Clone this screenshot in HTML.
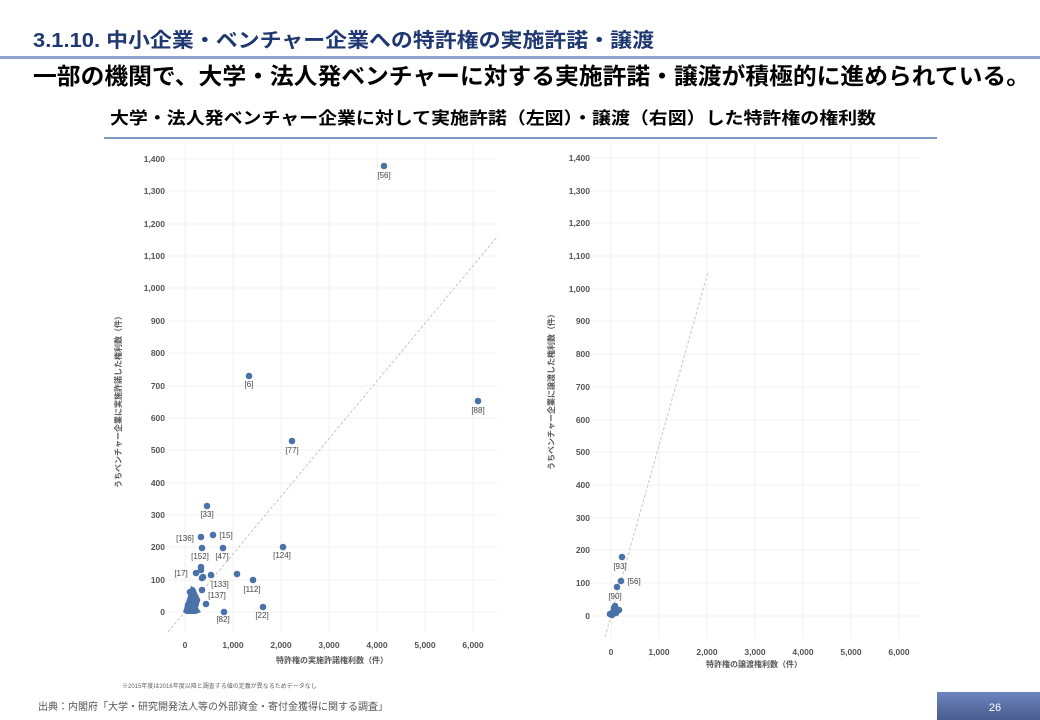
<!DOCTYPE html>
<html><head><meta charset="utf-8"><style>
body{margin:0;width:1040px;height:720px;overflow:hidden;background:#fff;font-family:"Liberation Sans","Noto Sans CJK JP",sans-serif;}
</style></head><body>
<svg width="1040" height="720" xmlns="http://www.w3.org/2000/svg" style="position:absolute;left:0;top:0" font-family="Liberation Sans, Noto Sans CJK JP, sans-serif">
<text x="33" y="47" font-size="20" font-weight="bold" fill="#1f3872" textLength="621" lengthAdjust="spacingAndGlyphs">3.1.10. 中小企業・ベンチャー企業への特許権の実施許諾・譲渡</text>
<rect x="0" y="56" width="1040" height="3" fill="#8ea0cc"/>
<text x="33" y="84" font-size="23" font-weight="bold" fill="#000" textLength="997" lengthAdjust="spacingAndGlyphs">一部の機関で、大学・法人発ベンチャーに対する実施許諾・譲渡が積極的に進められている。</text>
<text x="110" y="124" font-size="17" font-weight="bold" fill="#000" textLength="766" lengthAdjust="spacingAndGlyphs">大学・法人発ベンチャー企業に対して実施許諾（左図）・譲渡（右図）した特許権の権利数</text>
<rect x="104" y="137" width="833" height="2" fill="#8297c4"/>

<g stroke="#f0f0f0" stroke-width="1">
<line x1="168" y1="159" x2="497" y2="159"/><line x1="168" y1="191" x2="497" y2="191"/><line x1="168" y1="224" x2="497" y2="224"/><line x1="168" y1="256" x2="497" y2="256"/><line x1="168" y1="288" x2="497" y2="288"/><line x1="168" y1="321" x2="497" y2="321"/><line x1="168" y1="353" x2="497" y2="353"/><line x1="168" y1="386" x2="497" y2="386"/><line x1="168" y1="418" x2="497" y2="418"/><line x1="168" y1="450" x2="497" y2="450"/><line x1="168" y1="483" x2="497" y2="483"/><line x1="168" y1="515" x2="497" y2="515"/><line x1="168" y1="547" x2="497" y2="547"/><line x1="168" y1="580" x2="497" y2="580"/><line x1="168" y1="612" x2="497" y2="612"/>
<line x1="185" y1="145" x2="185" y2="632"/><line x1="233" y1="145" x2="233" y2="632"/><line x1="281" y1="145" x2="281" y2="632"/><line x1="329" y1="145" x2="329" y2="632"/><line x1="377" y1="145" x2="377" y2="632"/><line x1="425" y1="145" x2="425" y2="632"/><line x1="473" y1="145" x2="473" y2="632"/>
<line x1="592" y1="158" x2="920" y2="158"/><line x1="592" y1="191" x2="920" y2="191"/><line x1="592" y1="223" x2="920" y2="223"/><line x1="592" y1="256" x2="920" y2="256"/><line x1="592" y1="289" x2="920" y2="289"/><line x1="592" y1="321" x2="920" y2="321"/><line x1="592" y1="354" x2="920" y2="354"/><line x1="592" y1="387" x2="920" y2="387"/><line x1="592" y1="420" x2="920" y2="420"/><line x1="592" y1="452" x2="920" y2="452"/><line x1="592" y1="485" x2="920" y2="485"/><line x1="592" y1="518" x2="920" y2="518"/><line x1="592" y1="550" x2="920" y2="550"/><line x1="592" y1="583" x2="920" y2="583"/><line x1="592" y1="616" x2="920" y2="616"/>
<line x1="611" y1="145" x2="611" y2="638"/><line x1="659" y1="145" x2="659" y2="638"/><line x1="707" y1="145" x2="707" y2="638"/><line x1="755" y1="145" x2="755" y2="638"/><line x1="803" y1="145" x2="803" y2="638"/><line x1="851" y1="145" x2="851" y2="638"/><line x1="899" y1="145" x2="899" y2="638"/>
</g>
<line x1="168" y1="632" x2="497" y2="237" stroke="#c8c8c8" stroke-dasharray="3,2"/>
<line x1="605" y1="637" x2="708" y2="272" stroke="#c8c8c8" stroke-dasharray="3,2"/>

<g font-size="8.5" fill="#555" text-anchor="end" font-weight="bold">
<text x="165" y="162">1,400</text><text x="165" y="194">1,300</text><text x="165" y="227">1,200</text><text x="165" y="259">1,100</text><text x="165" y="291">1,000</text><text x="165" y="324">900</text><text x="165" y="356">800</text><text x="165" y="389">700</text><text x="165" y="421">600</text><text x="165" y="453">500</text><text x="165" y="486">400</text><text x="165" y="518">300</text><text x="165" y="550">200</text><text x="165" y="583">100</text><text x="165" y="615">0</text>
<text x="590" y="161">1,400</text><text x="590" y="194">1,300</text><text x="590" y="226">1,200</text><text x="590" y="259">1,100</text><text x="590" y="292">1,000</text><text x="590" y="324">900</text><text x="590" y="357">800</text><text x="590" y="390">700</text><text x="590" y="423">600</text><text x="590" y="455">500</text><text x="590" y="488">400</text><text x="590" y="521">300</text><text x="590" y="553">200</text><text x="590" y="586">100</text><text x="590" y="619">0</text>
</g>
<g font-size="8.5" fill="#555" text-anchor="middle" font-weight="bold">
<text x="185" y="648">0</text><text x="233" y="648">1,000</text><text x="281" y="648">2,000</text><text x="329" y="648">3,000</text><text x="377" y="648">4,000</text><text x="425" y="648">5,000</text><text x="473" y="648">6,000</text>
<text x="611" y="655">0</text><text x="659" y="655">1,000</text><text x="707" y="655">2,000</text><text x="755" y="655">3,000</text><text x="803" y="655">4,000</text><text x="851" y="655">5,000</text><text x="899" y="655">6,000</text>
</g>
<g font-size="8" fill="#555" text-anchor="middle" font-weight="bold">
<text x="332" y="663">特許権の実施許諾権利数（件）</text>
<text x="754" y="667">特許権の譲渡権利数（件）</text>
<text transform="translate(121,400) rotate(-90)">うちベンチャー企業に実施許諾した権利数（件）</text>
<text transform="translate(554,390) rotate(-90)">うちベンチャー企業に譲渡した権利数（件）</text>
</g>
<text x="122" y="688" font-size="6" fill="#666">※2015年度は2016年度以降と調査する値の定義が異なるためデータなし</text>

<g fill="#4a72a8">
<circle cx="384" cy="166" r="3.3"/><circle cx="249" cy="376" r="3.3"/><circle cx="478" cy="401" r="3.3"/><circle cx="292" cy="441" r="3.3"/><circle cx="283" cy="547" r="3.3"/><circle cx="207" cy="506" r="3.3"/><circle cx="213" cy="535" r="3.3"/><circle cx="201" cy="537" r="3.3"/><circle cx="202" cy="548" r="3.3"/><circle cx="223" cy="548" r="3.3"/><circle cx="201" cy="567" r="3.3"/><circle cx="201" cy="570" r="3.3"/><circle cx="196" cy="573" r="3.3"/><circle cx="203" cy="577" r="3.3"/><circle cx="202" cy="578" r="3.3"/><circle cx="211" cy="575" r="3.3"/><circle cx="237" cy="574" r="3.3"/><circle cx="253" cy="580" r="3.3"/><circle cx="202" cy="590" r="3.3"/><circle cx="206" cy="604" r="3.3"/><circle cx="224" cy="612" r="3.3"/><circle cx="263" cy="607" r="3.3"/>
<polygon points="183,612 191,586 195,588 200,600 198,608 201,612 196,614 186,614"/>
<circle cx="193" cy="600" r="3.3"/><circle cx="197" cy="600" r="3.3"/><circle cx="188" cy="605" r="3.3"/><circle cx="194" cy="595" r="3.3"/><circle cx="190" cy="592" r="3.3"/>
<circle cx="622" cy="557" r="3.3"/><circle cx="621" cy="581" r="3.3"/><circle cx="617" cy="587" r="3.3"/>
<circle cx="610" cy="614" r="3.3"/><circle cx="613" cy="612" r="3.3"/><circle cx="614" cy="608" r="3.3"/><circle cx="615" cy="606" r="3.3"/><circle cx="617" cy="611" r="3.3"/><circle cx="619" cy="610" r="3.3"/><circle cx="612" cy="615" r="3.3"/><circle cx="616" cy="613" r="3.3"/>
</g>
<g font-size="8" fill="#444" text-anchor="middle">
<text x="384" y="178">[56]</text><text x="249" y="387">[6]</text><text x="478" y="413">[88]</text><text x="292" y="453">[77]</text><text x="282" y="558">[124]</text><text x="207" y="517">[33]</text><text x="226" y="538">[15]</text><text x="185" y="541">[136]</text><text x="200" y="559">[152]</text><text x="222" y="559">[47]</text><text x="181" y="576">[17]</text><text x="220" y="587">[133]</text><text x="252" y="592">[112]</text><text x="217" y="598">[137]</text><text x="223" y="622">[82]</text><text x="262" y="618">[22]</text>
<text x="620" y="569">[93]</text><text x="634" y="584">[56]</text><text x="615" y="599">[90]</text>
</g>

<text x="38" y="710" font-size="10" fill="#555">出典：内閣府「大学・研究開発法人等の外部資金・寄付金獲得に関する調査」</text>
<defs><linearGradient id="g" x1="0" y1="0" x2="0" y2="1"><stop offset="0" stop-color="#6c84c0"/><stop offset="1" stop-color="#4a5c8e"/></linearGradient></defs>
<rect x="937" y="692" width="103" height="28" fill="url(#g)"/>
<text x="995" y="711" font-size="11" fill="#fff" text-anchor="middle">26</text>
</svg>
</body></html>
